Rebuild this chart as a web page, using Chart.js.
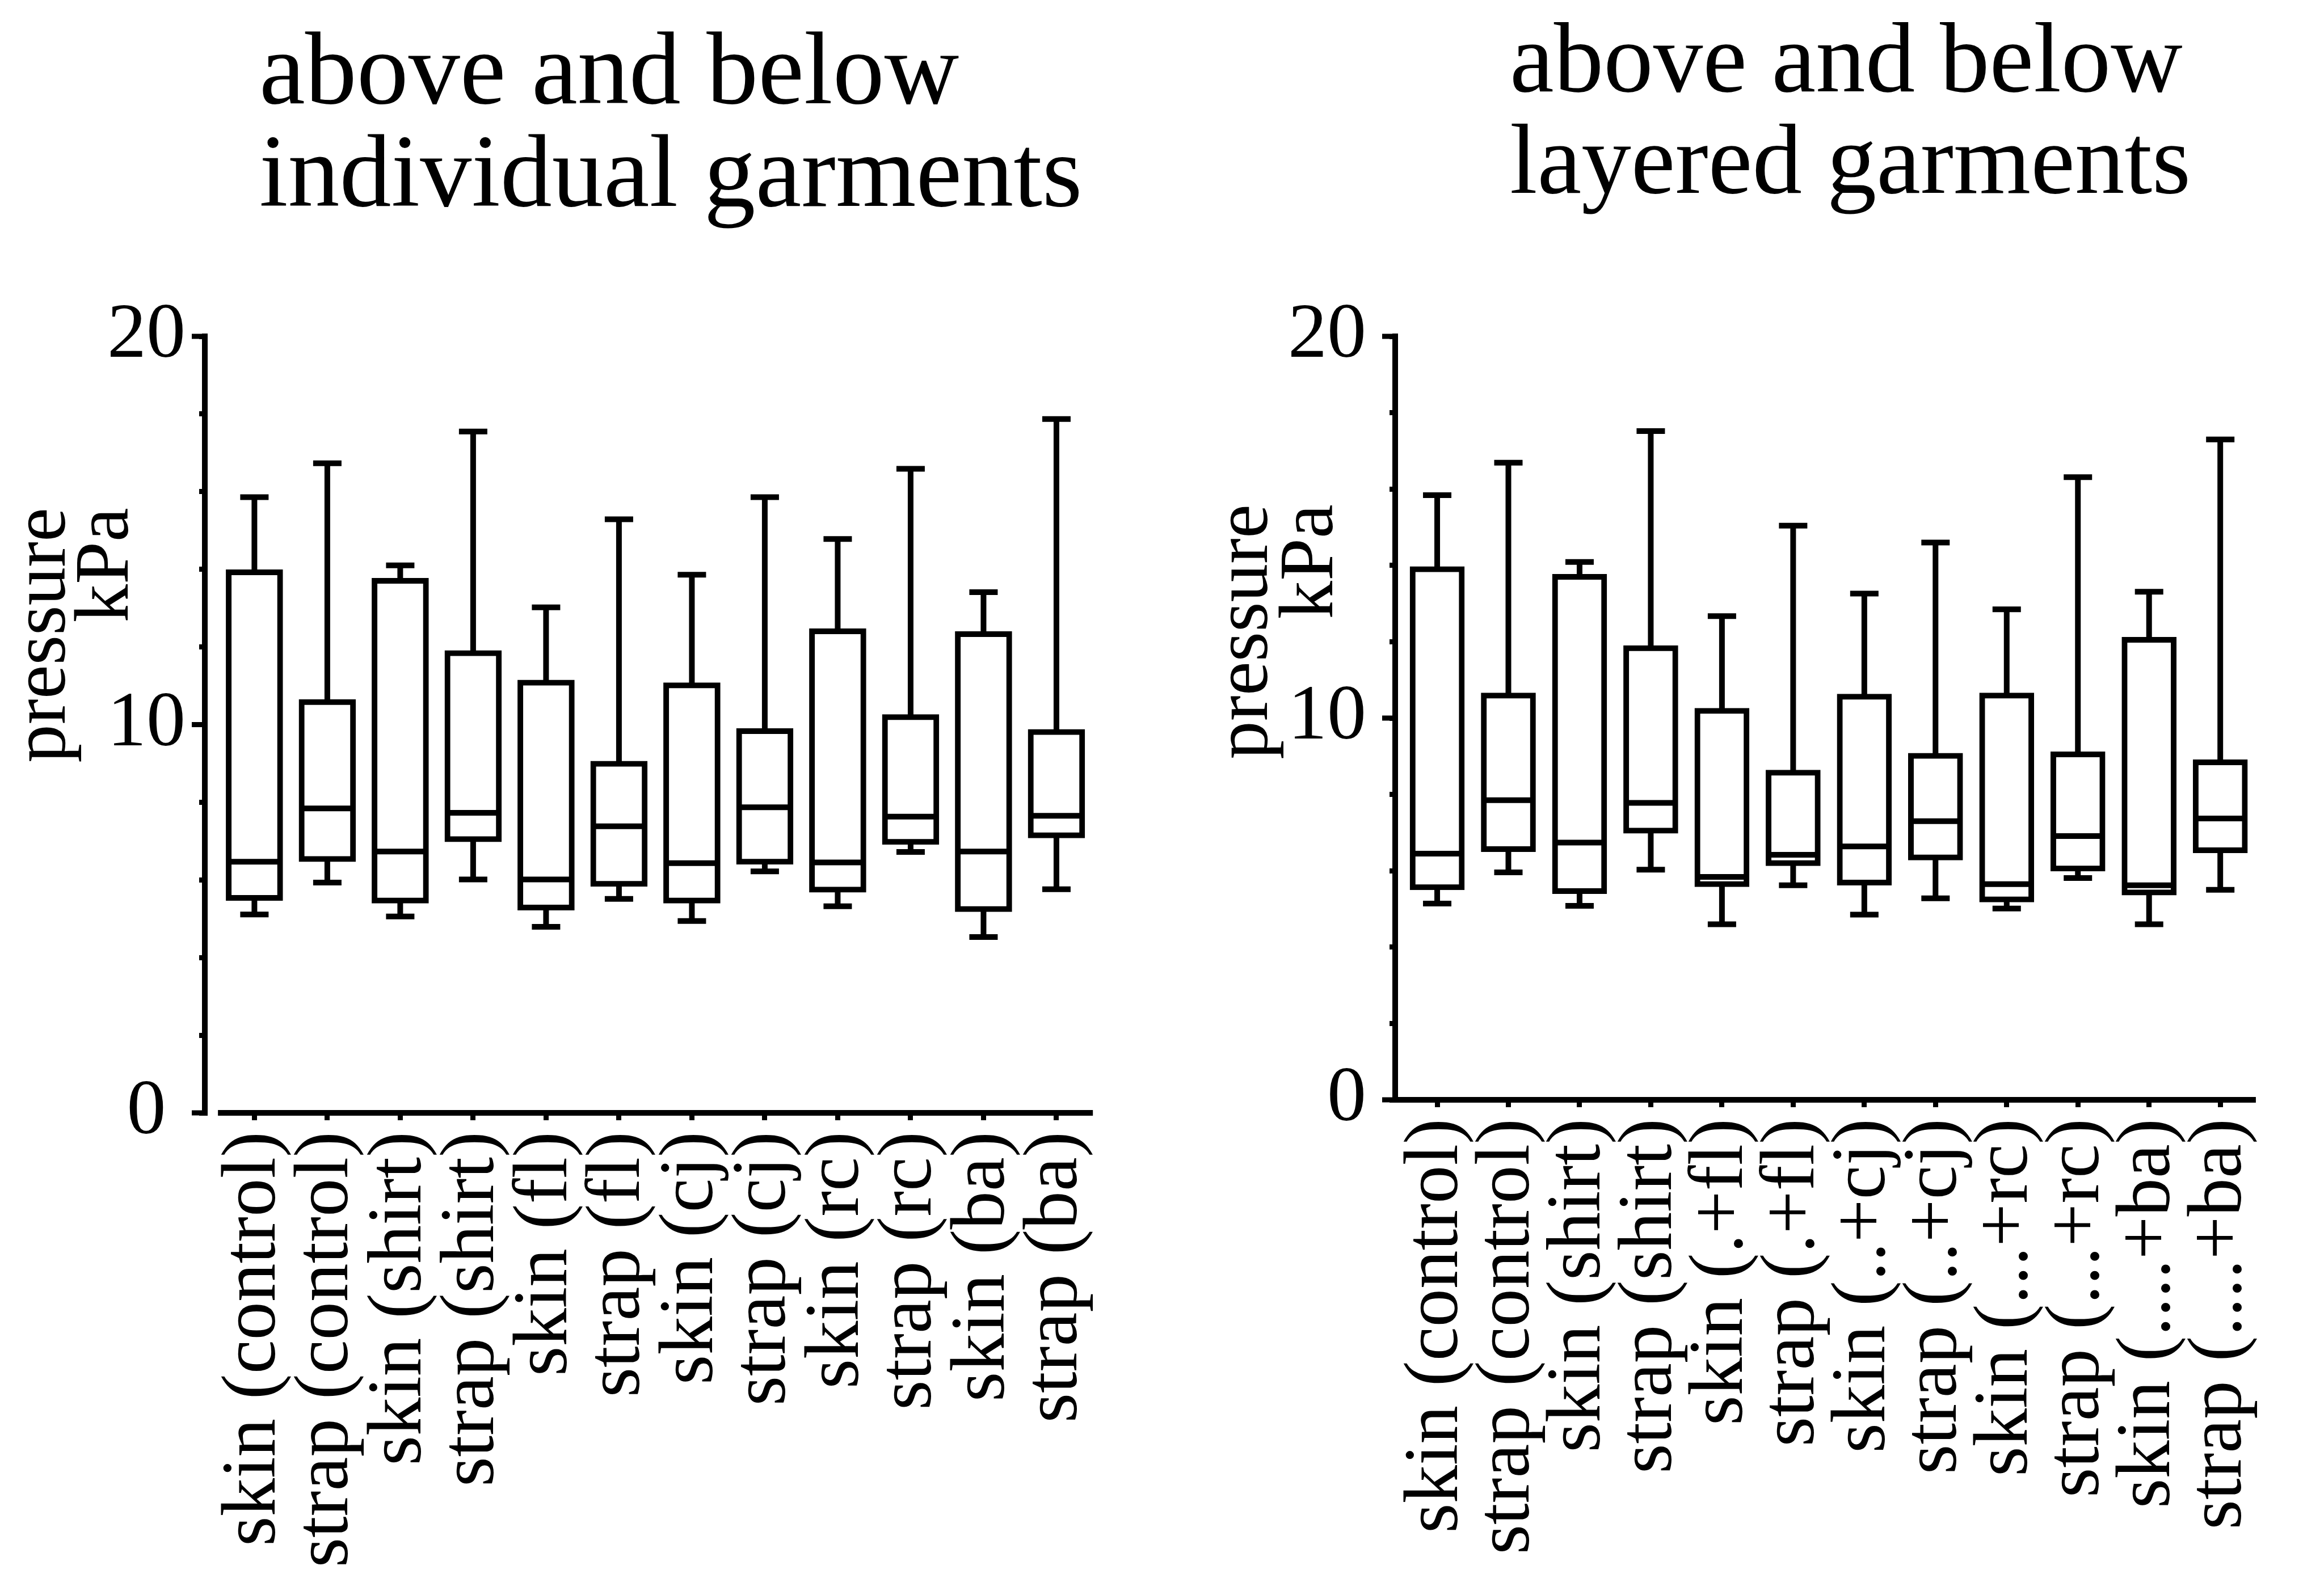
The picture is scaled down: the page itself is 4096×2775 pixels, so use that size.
<!DOCTYPE html>
<html>
<head>
<meta charset="utf-8">
<title>pressure above and below garments</title>
<script src="https://cdn.jsdelivr.net/npm/chart.js@4.4.1/dist/chart.umd.min.js"></script>
<style>
  html, body { margin: 0; padding: 0; background: #fff; }
  body { width: 4096px; height: 2775px; position: relative; overflow: hidden; }
  canvas { position: absolute; top: 0; }
  .title { position: absolute; white-space: nowrap; line-height: 1; color: #000;
           font-family: "Liberation Serif", "Times New Roman", serif; }
</style>
</head>
<body>
<canvas id="chartLeft" width="2048" height="2775" style="left:0"></canvas>
<canvas id="chartRight" width="2048" height="2775" style="left:2048px"></canvas>
<script>
// --- data ---------------------------------------------------------------
const titleIndividual = ['above and below', 'individual garments'];
const titleLayered = ['above and below', 'layered garments'];
const yTitle = ['pressure', 'kPa'];
const yLabelled = [0, 10, 20];

const garmentsIndividual = ['skin (control)', 'strap (control)', 'skin (shirt)', 'strap (shirt)',
  'skin (fl)', 'strap (fl)', 'skin (cj)', 'strap (cj)', 'skin (rc)', 'strap (rc)', 'skin (ba)', 'strap (ba)'];
const garmentsLayered = ['skin (control)', 'strap (control)', 'skin (shirt)', 'strap (shirt)',
  'skin (.+fl)', 'strap (.+fl)', 'skin (..+cj)', 'strap (..+cj)', 'skin (...+rc)', 'strap (...+rc)',
  'skin (....+ba)', 'strap (....+ba)'];

// box plot values, kPa
const indLow  = [5.11, 5.93, 5.06, 6.01, 4.79, 5.51, 4.94, 6.22, 5.32, 6.72, 4.53, 5.76];
const indQ1   = [5.47, 6.47, 5.40, 6.98, 5.22, 5.83, 5.40, 6.40, 5.68, 6.91, 5.18, 7.08];
const indMed  = [6.47, 7.84, 6.73, 7.73, 6.01, 7.38, 6.43, 7.87, 6.45, 7.63, 6.73, 7.65];
const indQ3   = [13.99, 10.65, 13.77, 11.91, 11.15, 9.06, 11.08, 9.90, 12.47, 10.26, 12.40, 9.88];
const indHigh = [15.86, 16.73, 14.10, 17.55, 13.02, 15.29, 13.86, 15.86, 14.78, 16.59, 13.41, 17.87];

const layLow  = [5.14, 5.96, 5.08, 6.03, 4.60, 5.62, 4.85, 5.28, 5.01, 5.81, 4.60, 5.50];
const layQ1   = [5.50, 6.50, 5.40, 6.98, 5.58, 6.13, 5.62, 6.28, 5.18, 5.99, 5.36, 6.47];
const layMed  = [6.45, 7.85, 6.74, 7.78, 5.84, 6.42, 6.64, 7.30, 5.65, 6.91, 5.62, 7.37];
const layQ3   = [13.97, 10.66, 13.77, 11.90, 10.26, 8.64, 10.63, 9.08, 10.66, 9.12, 12.12, 8.91];
const layHigh = [15.84, 16.69, 14.09, 17.52, 12.67, 15.04, 13.26, 14.60, 12.85, 16.31, 13.31, 17.30];

// --- look ---------------------------------------------------------------
const LINE = 10;
Chart.defaults.font.family = '"Liberation Serif", "Times New Roman", serif';
Chart.defaults.color = '#000';

function titleLine(text, x, baseline, size) {
  const d = document.createElement('div');
  d.className = 'title';
  d.textContent = text;
  d.style.left = x + 'px';
  d.style.top = (baseline - 0.8375 * size) + 'px';
  d.style.fontSize = size + 'px';
  document.body.appendChild(d);
}

// whiskers, caps and median line on top of the floating bars
function boxPlugin(s) {
  return {
    id: 'boxWhiskers',
    afterDatasetsDraw(chart) {
      const {ctx, scales: {y}} = chart;
      const meta = chart.getDatasetMeta(0);
      ctx.save();
      ctx.strokeStyle = '#000';
      ctx.lineWidth = LINE;
      meta.data.forEach((bar, i) => {
        const cx = bar.x;
        const half = bar.width / 2 - LINE / 2;
        const cap = 20;
        const yHi = y.getPixelForValue(s.high[i]);
        const yLo = y.getPixelForValue(s.low[i]);
        const yQ3 = y.getPixelForValue(s.q3[i]);
        const yQ1 = y.getPixelForValue(s.q1[i]);
        const yMd = y.getPixelForValue(s.med[i]);
        ctx.lineCap = 'square';
        ctx.beginPath();
        ctx.moveTo(cx, yQ3); ctx.lineTo(cx, yHi);
        ctx.moveTo(cx - cap, yHi); ctx.lineTo(cx + cap, yHi);
        ctx.moveTo(cx, yQ1); ctx.lineTo(cx, yLo);
        ctx.moveTo(cx - cap, yLo); ctx.lineTo(cx + cap, yLo);
        ctx.stroke();
        ctx.lineCap = 'butt';
        ctx.beginPath();
        ctx.moveTo(cx - half, yMd); ctx.lineTo(cx + half, yMd);
        ctx.stroke();
      });
      ctx.restore();
    }
  };
}

// x axis line (can start right of the y axis), long ticks at 0/10/20, y title
function axesPlugin(L) {
  return {
    id: 'sketchAxes',
    afterDraw(chart) {
      const {ctx, chartArea, scales: {x, y}} = chart;
      ctx.save();
      ctx.strokeStyle = '#000';
      const y0 = y.getPixelForValue(0);
      ctx.lineWidth = LINE;
      ctx.beginPath();
      ctx.moveTo(x.getPixelForValue(L.axisFrom), y0);
      ctx.lineTo(chartArea.right, y0);
      ctx.stroke();

      ctx.lineWidth = 9;
      ctx.beginPath();
      yLabelled.forEach(v => {
        const py = y.getPixelForValue(v);
        ctx.moveTo(chartArea.left - 23, py);
        ctx.lineTo(chartArea.left, py);
      });
      ctx.stroke();

      ctx.fillStyle = '#000';
      ctx.font = '135px "Liberation Serif"';
      ctx.textAlign = 'right';
      ctx.textBaseline = 'alphabetic';
      yTitle.forEach((line, i) => {
        ctx.save();
        ctx.translate(L.titleX[i], L.titleEnd);
        ctx.rotate(-Math.PI / 2);
        ctx.fillText(line, 0, 0);
        ctx.restore();
      });
      ctx.restore();
    }
  };
}

function drawPanel(canvasId, labels, s, L) {
  const boxes = labels.map((_, i) => ({ x: i, y: [s.q1[i], s.q3[i]] }));
  return new Chart(document.getElementById(canvasId), {
    type: 'bar',
    data: {
      datasets: [{
        data: boxes,
        backgroundColor: '#ffffff',
        borderColor: '#000000',
        borderWidth: LINE,
        borderSkipped: false,
        barThickness: L.boxWidth
      }]
    },
    options: {
      responsive: false,
      animation: false,
      devicePixelRatio: 1,
      layout: { padding: { top: L.top, right: L.right, bottom: 0, left: 0 } },
      plugins: { legend: { display: false }, tooltip: { enabled: false }, title: { display: false } },
      scales: {
        x: {
          type: 'linear',
          bounds: 'data',
          min: L.xMin,
          max: 11.5,
          offset: false,
          afterBuildTicks: sc => { sc.ticks = labels.map((_, i) => ({ value: i })); },
          afterFit: sc => { sc.height = L.xHeight; },
          border: { display: false },
          grid: { offset: false, drawOnChartArea: false, tickLength: 13, lineWidth: 9, color: '#000' },
          ticks: {
            autoSkip: false, minRotation: 90, maxRotation: 90, padding: 20,
            font: { size: 135 },
            callback: v => labels[v]
          }
        },
        y: {
          min: 0,
          max: 20,
          afterFit: sc => { sc.width = L.yWidth; },
          border: { display: true, width: LINE, color: '#000' },
          grid: { drawOnChartArea: false, tickLength: 10, lineWidth: 9, color: '#000' },
          ticks: {
            autoSkip: false, stepSize: 2, padding: L.yPad, crossAlign: L.crossAlign,
            font: { size: 138 },
            callback: v => (yLabelled.includes(v) ? String(v) : '')
          }
        }
      }
    },
    plugins: [boxPlugin(s), axesPlugin(L)]
  });
}

titleLine(titleIndividual[0], 457, 182, 182);
titleLine(titleIndividual[1], 457, 363, 182);
titleLine(titleLayered[0], 2661, 162, 175);
titleLine(titleLayered[1], 2661, 341, 175);

drawPanel('chartLeft', garmentsIndividual,
  { low: indLow, q1: indQ1, med: indMed, q3: indQ3, high: indHigh },
  { top: 593, right: 99, yWidth: 361, xHeight: 813, xMin: -0.68, axisFrom: -0.5,
    boxWidth: 100, yPad: 24, crossAlign: 'center', titleX: [114, 225], titleEnd: 895 });

drawPanel('chartRight', garmentsLayered,
  { low: layLow, q1: layQ1, med: layMed, q3: layQ3, high: layHigh },
  { top: 593, right: 20, yWidth: 411, xHeight: 836, xMin: -0.59, axisFrom: -0.59,
    boxWidth: 96, yPad: 41, crossAlign: 'near', titleX: [185, 300], titleEnd: 889 });
</script>
</body>
</html>
